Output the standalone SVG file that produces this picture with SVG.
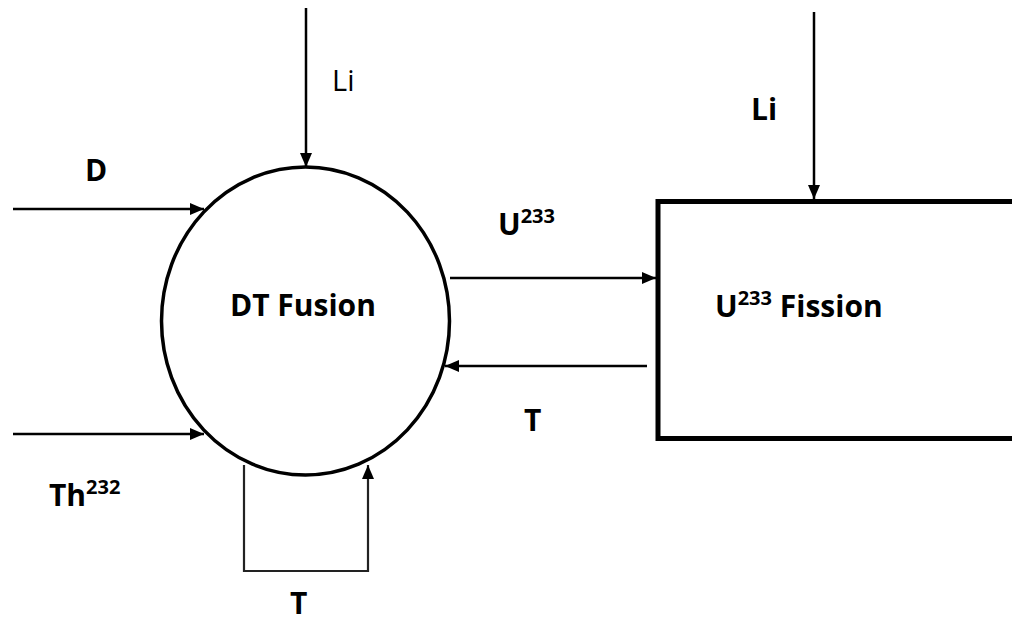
<svg xmlns="http://www.w3.org/2000/svg" width="1012" height="621" viewBox="0 0 1012 621">
<style>
.t{font-family:"Open Sans","Noto Sans",sans-serif;font-weight:bold;font-size:30px;fill:#000}
.r{font-family:"Open Sans","Noto Sans",sans-serif;font-size:29px;fill:#000}
.sup{font-size:20px}
.ln{stroke:#000;stroke-width:2.5;fill:none}
</style>
<defs>
<marker id="ah" markerUnits="userSpaceOnUse" markerWidth="14" markerHeight="14" viewBox="0 0 14 14" refX="14" refY="7" orient="auto">
<path d="M0,1 L14,7 L0,13 Z" fill="#000"/>
</marker>
</defs>
<rect width="1012" height="621" fill="#fff"/>
<g id="fusion">
<ellipse cx="305.5" cy="321" rx="144" ry="154" fill="none" stroke="#000" stroke-width="3.5"/>
<text class="t" x="230" y="316">DT Fusion</text>
</g>
<g id="fission">
<path d="M1016,201.5 H658 V438.5 H1016" fill="none" stroke="#000" stroke-width="5"/>
<text class="t" x="715" y="317">U<tspan class="sup" dy="-12">233</tspan><tspan dy="12"> Fission</tspan></text>
</g>
<g id="connectors">
<line class="ln" x1="306" y1="8" x2="306" y2="167" marker-end="url(#ah)"/>
<line class="ln" x1="814" y1="12" x2="814" y2="199" marker-end="url(#ah)"/>
<line class="ln" x1="13" y1="209" x2="204" y2="209" marker-end="url(#ah)"/>
<line class="ln" x1="13" y1="434" x2="204" y2="434" marker-end="url(#ah)"/>
<line class="ln" x1="450" y1="278" x2="656" y2="278" marker-end="url(#ah)"/>
<line class="ln" x1="647" y1="366" x2="445" y2="366" marker-end="url(#ah)"/>
<path d="M244,465 V571 H368 V465" fill="none" stroke="#222" stroke-width="2.2" marker-end="url(#ah)"/>
</g>
<g id="labels">
<text class="r" x="332" y="91">Li</text>
<text class="t" x="751" y="120">Li</text>
<text class="t" x="85" y="181">D</text>
<text class="t" x="49" y="506">Th<tspan class="sup" dy="-12">232</tspan></text>
<text class="t" x="498" y="235">U<tspan class="sup" dy="-12">233</tspan></text>
<text class="t" x="524" y="431">T</text>
<text class="t" x="290" y="614">T</text>
</g>
</svg>
